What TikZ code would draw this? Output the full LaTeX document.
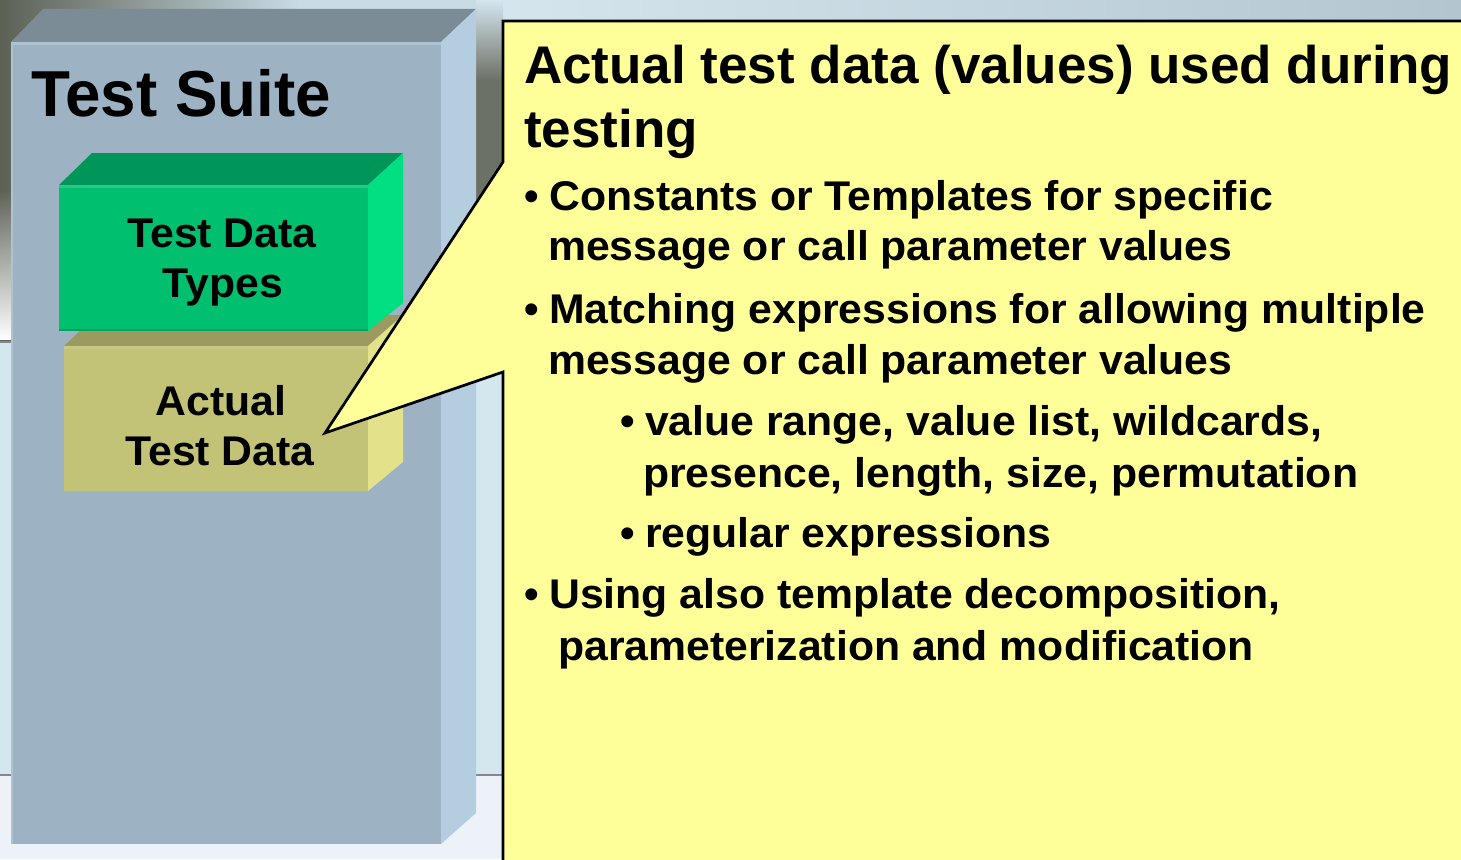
\documentclass[tikz,border=0pt]{standalone}
\usepackage{fontspec}
\setmainfont{Liberation Sans}
\usetikzlibrary{fadings}

% slide background
\definecolor{bgblue}{HTML}{D4E7EF}
\definecolor{bgfoot}{HTML}{EDF2F9}
\definecolor{bgdark}{HTML}{5C6155}
\definecolor{bglight}{HTML}{C9DBE4}
\definecolor{bgsky}{HTML}{D5E5EE}
\definecolor{bgsteel}{HTML}{B3C6CF}
\definecolor{bgrule}{HTML}{7E8A90}
% test suite block
\definecolor{suitefront}{HTML}{9DB2C3}
\definecolor{suitetop}{HTML}{7B8C97}
\definecolor{suiteside}{HTML}{B4CDDF}
\definecolor{suiteedge}{HTML}{AEC3D2}
% test data types block
\definecolor{typefront}{HTML}{00BF6F}
\definecolor{typetop}{HTML}{00965A}
\definecolor{typeside}{HTML}{00DF82}
% actual test data block
\definecolor{datafront}{HTML}{C3C378}
\definecolor{datatop}{HTML}{9C9A5E}
\definecolor{dataside}{HTML}{E3E28A}
% callout
\definecolor{notefill}{HTML}{FFFF99}

% horizontally widened bold text
\newcommand{\widetext}[2]{\scalebox{#1}[1]{#2}}

\begin{document}
\begin{tikzpicture}[x=1pt,y=-1pt,
  txt/.style={anchor=base west,inner sep=0pt,font=\bfseries\fontsize{41.5}{48}\selectfont},
  titletxt/.style={anchor=base west,inner sep=0pt,font=\bfseries\fontsize{53}{60}\selectfont},
  boxtxt/.style={anchor=base,inner sep=0pt,font=\bfseries\fontsize{41.5}{48}\selectfont},
  suitetxt/.style={anchor=base west,inner sep=0pt,font=\bfseries\fontsize{65}{72}\selectfont}]
\useasboundingbox (0,0) rectangle (1461,859);
\clip (0,0) rectangle (1461,859);

% ---- background ----
\fill[bgblue] (0,0) rectangle (1461,775);
\fill[bgfoot] (0,775) rectangle (1461,859);
\fill[bglight] (0,0) rectangle (1461,342);
\shade[left color=bgdark,right color=bglight] (0,0) rectangle (300,342);
\fill[white,path fading=north] (0,190) rectangle (1461,340);
\shade[left color=bgsky,right color=bgsteel] (503,0) rectangle (1461,21);
\shade[top color=bgsky,bottom color=bgdark!90!white] (476,0) rectangle (503,80);
\fill[bgdark!90!white] (476,80) rectangle (503,250);
\draw[bgrule,line width=2pt] (0,342) -- (1461,342);
\draw[bgrule,line width=2pt] (0,775) -- (1461,775);

% ---- test suite block ----
\fill[suitetop] (11,42) -- (43,9) -- (476,9) -- (441,42) -- cycle;
\fill[suiteside] (441,42) -- (476,9) -- (476,813) -- (441,844) -- cycle;
\fill[suitefront] (11,42) rectangle (441,844);
\fill[suiteedge] (11,42) rectangle (441,45);
\fill[suiteedge] (11,42) rectangle (13,844);
\node[suitetxt] (suite) at (31,116) {\widetext{0.98}{Test Suite}};

% ---- actual test data block (behind) ----
\fill[datatop] (64,346) -- (97,315) -- (403,315) -- (368,346) -- cycle;
\fill[dataside] (368,346) -- (403,315) -- (403,462) -- (368,491) -- cycle;
\fill[datafront] (64,346) rectangle (368,491);
\fill[datafront!90!white] (64,346) rectangle (368,349);

% ---- test data types block ----
\fill[typetop] (59,185) -- (92,153) -- (403,153) -- (368,185) -- cycle;
\fill[typeside] (368,185) -- (403,153) -- (403,303) -- (368,331) -- cycle;
\fill[typefront] (59,185) rectangle (368,331);
\fill[typefront!85!white] (59,185) rectangle (368,188);
\fill[typefront!85!black] (59,329) rectangle (368,331);

\node[boxtxt] (types1) at (222,247) {\widetext{1.03}{Test Data}};
\node[boxtxt] (types2) at (223,297) {\widetext{1.03}{Types}};
\node[boxtxt] (actual1) at (221,415) {\widetext{1.03}{Actual}};
\node[boxtxt] (actual2) at (220,465) {\widetext{1.03}{Test Data}};

% ---- callout with pointer ----
\coordinate (tip) at (325,433);
\filldraw[fill=notefill,draw=black,line width=2.7pt,line join=miter]
  (503,162) -- (503,21) -- (1470,21) -- (1470,870) -- (503,870) -- (503,372) -- (tip) -- cycle;

\node[titletxt] (title1) at (524,83) {Actual test data (values) used during};
\node[titletxt] (title2) at (524,147) {testing};

\node[txt] (b1) at (524,210) {•};
\node[txt] (l1a) at (549,210) {\widetext{1.03}{Constants or Templates for specific}};
\node[txt] (l1b) at (548,260) {\widetext{1.03}{message or call parameter values}};

\node[txt] (b2) at (524,323) {•};
\node[txt] (l2a) at (549,323) {\widetext{1.03}{Matching expressions for allowing multiple}};
\node[txt] (l2b) at (548,374) {\widetext{1.03}{message or call parameter values}};

\node[txt] (b21) at (620,435) {•};
\node[txt] (l21a) at (645,435) {\widetext{1.03}{value range, value list, wildcards,}};
\node[txt] (l21b) at (643,487) {\widetext{1.03}{presence, length, size, permutation}};

\node[txt] (b22) at (620,547) {•};
\node[txt] (l22a) at (645,547) {\widetext{1.03}{regular expressions}};

\node[txt] (b3) at (524,608) {•};
\node[txt] (l3a) at (549,608) {\widetext{1.03}{Using also template decomposition,}};
\node[txt] (l3b) at (558,660) {\widetext{1.03}{parameterization and modification}};
\end{tikzpicture}
\end{document}
